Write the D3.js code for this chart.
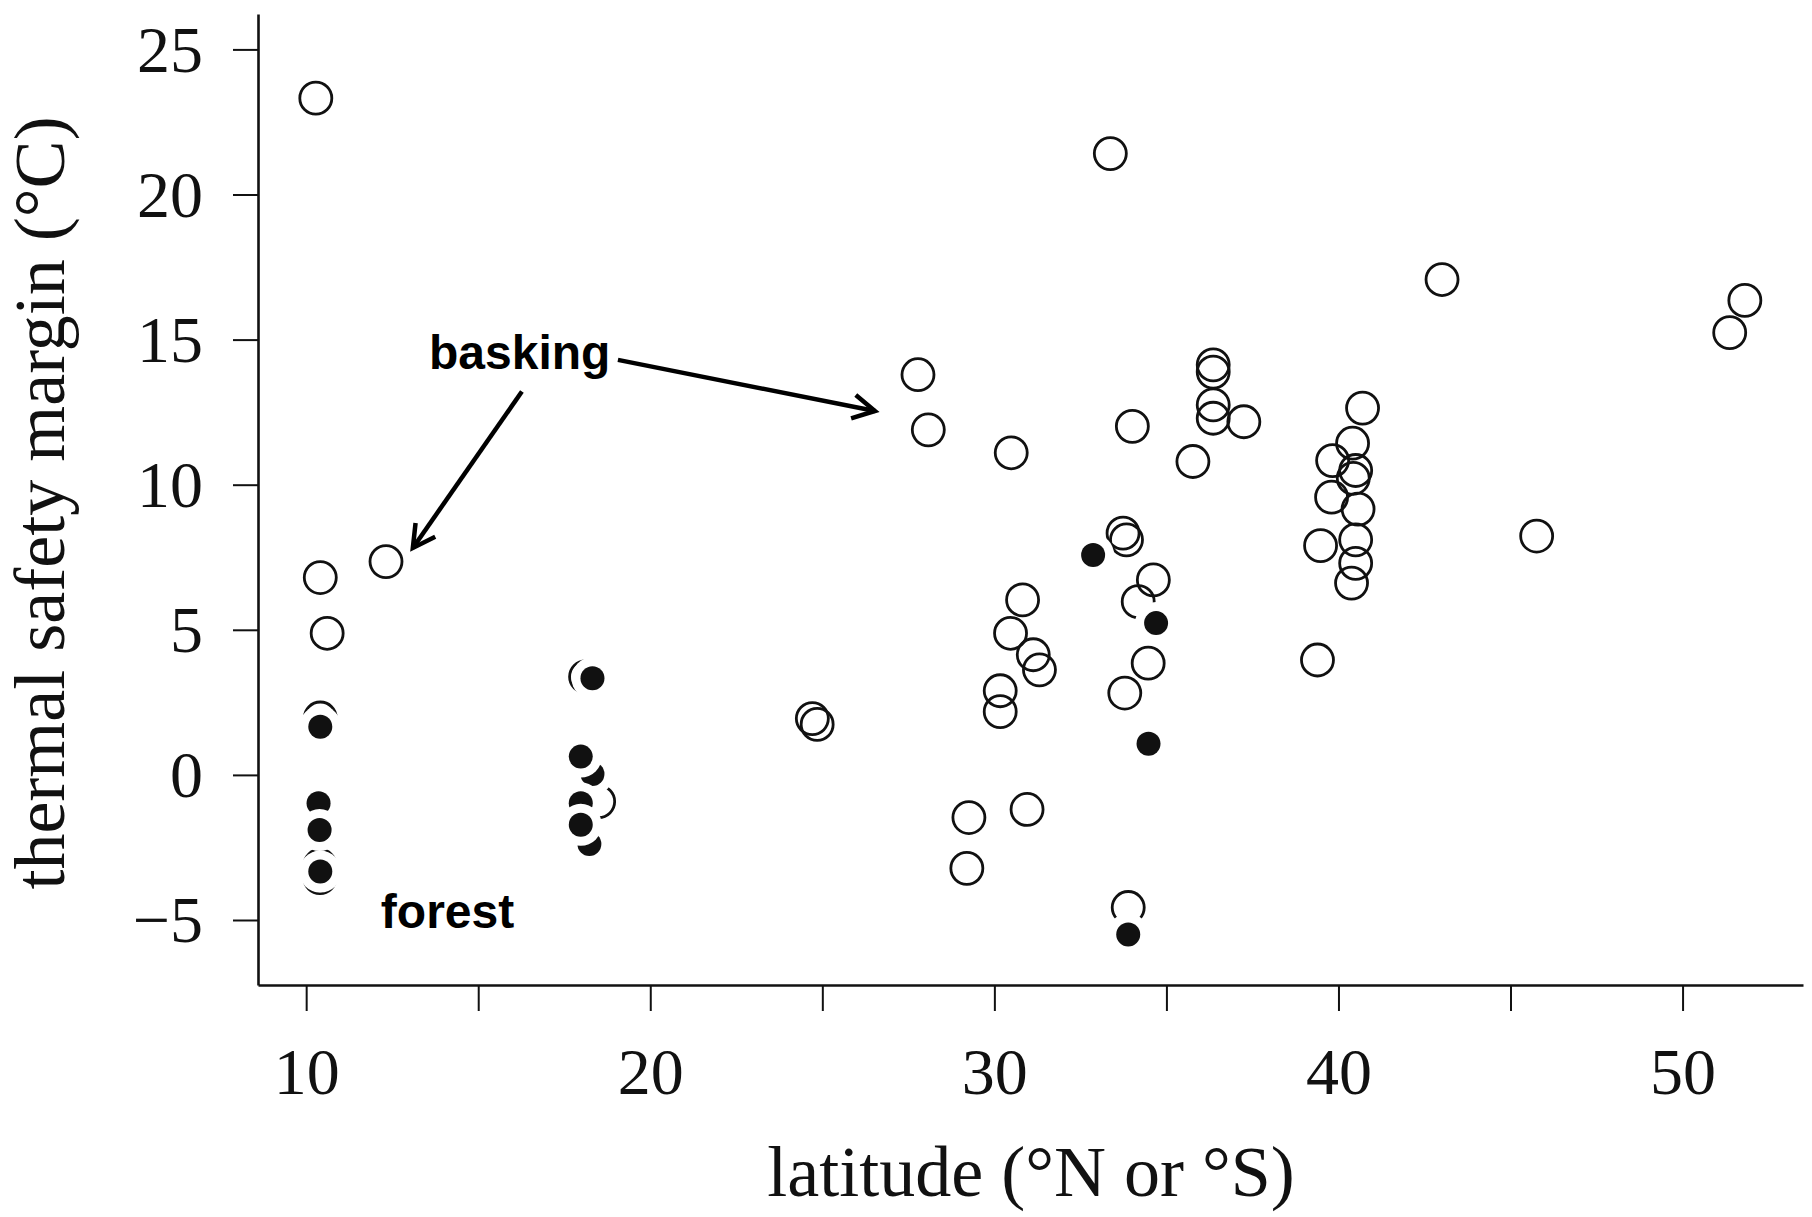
<!DOCTYPE html>
<html>
<head>
<meta charset="utf-8">
<script src="https://cdn.jsdelivr.net/npm/d3@7"></script>
<style>
  body { margin: 0; background: #fff; }
  svg { display: block; }
</style>
</head>
<body>
<svg id="chart" width="1812" height="1217"></svg>
<script>
// ---------- data (latitude °N/°S, thermal safety margin °C) ----------
const openLat = [
  10.28, 10.41, 10.61, 12.32, 10.41, 10.40, 10.40,
  18.12, 18.50, 24.71, 24.85, 27.78, 28.08, 30.49, 33.37, 34.01,
  36.36, 36.36, 36.36, 36.36, 37.25, 35.77, 43.01, 51.81, 51.37, 45.76,
  40.70, 40.41, 39.83, 40.50, 40.43, 39.80, 40.57, 40.50, 39.48, 40.50, 40.38, 39.39,
  33.74, 33.84, 34.62, 34.18, 34.47, 33.79, 33.89,
  30.82, 30.47, 31.13, 31.31, 30.17, 30.17, 29.26, 30.95, 29.20
];
const openTsm = [
  23.32, 6.80, 4.88, 7.35, 1.96, -3.12, -3.54,
  3.38, -0.92, 1.94, 1.74, 13.79, 11.89, 11.10, 21.41, 12.01,
  14.13, 13.88, 12.75, 12.29, 12.17, 10.80, 17.07, 16.35, 15.24, 8.23,
  12.64, 11.43, 10.83, 10.49, 10.22, 9.57, 9.16, 8.10, 7.90, 7.29, 6.61, 3.96,
  8.33, 8.10, 6.72, 5.97, 3.85, 2.82, -4.57,
  6.03, 4.88, 4.14, 3.62, 2.90, 2.18, -1.47, -1.19, -3.22
];
const filledLat = [
  32.87, 34.70, 34.48, 33.89,
  10.41, 10.36, 10.39, 10.41,
  18.32, 18.32, 17.98, 17.98, 18.23, 17.98
];
const filledTsm = [
  7.58, 5.23, 1.07, -5.50,
  1.66, -0.98, -1.90, -3.33,
  3.33, 0.03, 0.63, -0.98, -2.38, -1.72
];

const xTicks = [10, 15, 20, 25, 30, 35, 40, 45, 50];
const xTickLabels = [10, 20, 30, 40, 50];
const yTicks = [-5, 0, 5, 10, 15, 20, 25];

const xTitle = "latitude (°N or °S)";
const yTitle = "thermal safety margin (°C)";

// annotations (in data units)
const labelText = ["basking", "forest"];
const labelLat = [13.57, 12.17];
const labelTsm = [14.00, -5.27];
const arrowFromLat = [19.06, 16.27];
const arrowFromTsm = [14.30, 13.21];
const arrowToLat = [26.53, 13.10];
const arrowToTsm = [12.54, 7.82];

// ---------- drawing ----------
const svg = d3.select("#chart");
const serif = "'Liberation Serif', 'Times New Roman', serif";
const sans = "'Liberation Sans', Arial, sans-serif";

const x = d3.scaleLinear().domain([8.6, 53.5]).range([258, 1803]);
const y = d3.scaleLinear().domain([-7.24, 26.22]).range([985, 14]);

// x axis
const gx = svg.append("g")
  .attr("transform", "translate(0,985)")
  .call(d3.axisBottom(x)
    .tickValues(xTicks)
    .tickSize(26)
    .tickSizeOuter(0)
    .tickFormat(d => xTickLabels.includes(d) ? d3.format("d")(d) : ""));
gx.select(".domain").attr("stroke", "#111").attr("stroke-width", 2.6);
gx.selectAll(".tick line").attr("stroke", "#111").attr("stroke-width", 2);
gx.selectAll(".tick text")
  .attr("y", 109).attr("dy", null)
  .attr("fill", "#111")
  .style("font-family", serif).style("font-size", "66px");

// y axis
const gy = svg.append("g")
  .attr("transform", "translate(258,0)")
  .call(d3.axisLeft(y)
    .tickValues(yTicks)
    .tickSize(25)
    .tickSizeOuter(0)
    .tickPadding(30)
    .tickFormat(d3.format("d")));
gy.select(".domain").attr("stroke", "#111").attr("stroke-width", 2.6);
gy.selectAll(".tick line").attr("stroke", "#111").attr("stroke-width", 2);
gy.selectAll(".tick text")
  .attr("dy", null).attr("y", 22)
  .attr("fill", "#111")
  .style("font-family", serif).style("font-size", "66px");

// axis titles
svg.append("text")
  .attr("x", 1031).attr("y", 1196)
  .attr("text-anchor", "middle")
  .attr("fill", "#111")
  .style("font-family", serif).style("font-size", "72px")
  .text(xTitle);
svg.append("text")
  .attr("transform", "translate(64,503) rotate(-90)")
  .attr("text-anchor", "middle")
  .attr("fill", "#111")
  .style("font-family", serif).style("font-size", "72px")
  .text(yTitle);

// open circles
const openData = openLat.map((v, i) => ({ lat: v, tsm: openTsm[i] }));
svg.append("g").selectAll("circle")
  .data(openData).join("circle")
  .attr("cx", d => x(d.lat))
  .attr("cy", d => y(d.tsm))
  .attr("r", 16)
  .attr("fill", "none")
  .attr("stroke", "#111")
  .attr("stroke-width", 2.8);

// filled points, each with a white halo
const filledData = filledLat.map((v, i) => ({ lat: v, tsm: filledTsm[i] }));
const fg = svg.append("g").selectAll("g")
  .data(filledData).join("g")
  .attr("transform", d => `translate(${x(d.lat)},${y(d.tsm)})`);
fg.append("circle").attr("r", 21).attr("fill", "#fff");
fg.append("circle").attr("r", 12).attr("fill", "#111");

// annotation labels
svg.append("g").selectAll("text")
  .data(labelText).join("text")
  .attr("x", (d, i) => x(labelLat[i]))
  .attr("y", (d, i) => y(labelTsm[i]))
  .attr("fill", "#000")
  .style("font-family", sans).style("font-weight", "bold").style("font-size", "48px")
  .text(d => d);

// arrows
const arrows = arrowFromLat.map((v, i) => ({
  x1: x(v), y1: y(arrowFromTsm[i]),
  x2: x(arrowToLat[i]), y2: y(arrowToTsm[i])
}));
const ag = svg.append("g")
  .attr("fill", "none").attr("stroke", "#000")
  .attr("stroke-width", 4.5).attr("stroke-linecap", "butt").attr("stroke-linejoin", "miter");
ag.selectAll("line").data(arrows).join("line")
  .attr("x1", d => d.x1).attr("y1", d => d.y1)
  .attr("x2", d => d.x2).attr("y2", d => d.y2);
ag.selectAll("path").data(arrows).join("path")
  .attr("d", d => {
    const ang = Math.atan2(d.y2 - d.y1, d.x2 - d.x1);
    const len = 25, spread = 0.5;
    const ax = d.x2 - len * Math.cos(ang - spread), ay = d.y2 - len * Math.sin(ang - spread);
    const bx = d.x2 - len * Math.cos(ang + spread), by = d.y2 - len * Math.sin(ang + spread);
    return `M${ax},${ay}L${d.x2},${d.y2}L${bx},${by}`;
  });
</script>
</body>
</html>
